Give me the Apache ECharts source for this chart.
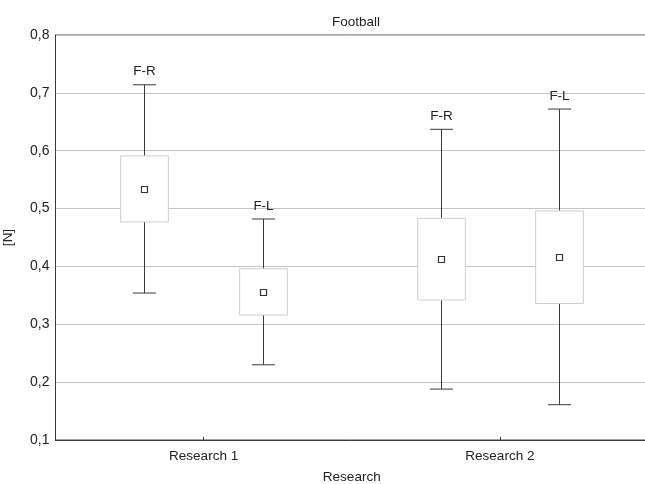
<!DOCTYPE html>
<html>
<head>
<meta charset="utf-8">
<script src="https://cdn.jsdelivr.net/npm/echarts@6/dist/echarts.min.js"></script>
<style>
html,body{margin:0;padding:0;background:#fff;}
#chart{width:645px;height:484px;}
</style>
</head>
<body>
<div id="chart"></div>
<script>
var categories = ['Research 1', 'Research 2'];
var groupNames = ['F-R', 'F-L'];
var yTicks = [0.1, 0.2, 0.3, 0.4, 0.5, 0.6, 0.7, 0.8];

var frMin  = [0.354, 0.188];
var frQ1   = [0.477, 0.342];
var frMean = [0.534, 0.412];
var frQ3   = [0.591, 0.483];
var frMax  = [0.714, 0.637];

var flMin  = [0.230, 0.161];
var flQ1   = [0.316, 0.336];
var flMean = [0.355, 0.417];
var flQ3   = [0.396, 0.496];
var flMax  = [0.482, 0.672];

function rows(mn, q1, mean, q3, mx) {
  return categories.map(function (c, i) { return [i, mn[i], q1[i], mean[i], q3[i], mx[i]]; });
}

var FONT = '"Liberation Sans", Arial, sans-serif';
var FS = 13.5;

function makeRender(offsetFrac, label) {
  return function (params, api) {
    var idx = api.value(0);
    var band = api.size([1, 0])[0];
    var cx = api.coord([idx, 0])[0] + offsetFrac * band;
    var yMin = api.coord([idx, api.value(1)])[1];
    var yQ1 = api.coord([idx, api.value(2)])[1];
    var yMean = api.coord([idx, api.value(3)])[1];
    var yQ3 = api.coord([idx, api.value(4)])[1];
    var yMax = api.coord([idx, api.value(5)])[1];
    var bw = band * 0.161;
    var cap = 23;
    var ln = { stroke: '#3a3a3a', lineWidth: 1 };
    var x = Math.round(cx) + 0.5;
    return {
      type: 'group',
      children: [
        { type: 'line', shape: { x1: x, y1: yMax, x2: x, y2: yQ3 }, style: ln },
        { type: 'line', shape: { x1: x, y1: yQ1, x2: x, y2: yMin }, style: ln },
        { type: 'line', shape: { x1: x - cap / 2, y1: yMax, x2: x + cap / 2, y2: yMax }, style: ln },
        { type: 'line', shape: { x1: x - cap / 2, y1: yMin, x2: x + cap / 2, y2: yMin }, style: ln },
        { type: 'rect', shape: { x: x - bw / 2, y: yQ3, width: bw, height: yQ1 - yQ3 },
          style: { fill: '#ffffff', stroke: '#cfcfcf', lineWidth: 1 } },
        { type: 'rect', shape: { x: x - 3, y: Math.round(yMean) - 2.5, width: 6, height: 6 },
          style: { fill: '#ffffff', stroke: '#333333', lineWidth: 1.2 } },
        { type: 'text', style: { text: label, x: x, y: yMax - 13, align: 'center', verticalAlign: 'middle',
          font: FS + 'px ' + FONT, fill: '#222' } }
      ]
    };
  };
}

var chart = echarts.init(document.getElementById('chart'), null, { renderer: 'canvas' });
chart.setOption({
  animation: false,
  backgroundColor: '#ffffff',
  title: {
    text: 'Football', left: 351, top: 10, textAlign: 'center',
    textStyle: { fontSize: FS, fontWeight: 'normal', color: '#222', fontFamily: FONT }
  },
  grid: { left: 55.5, right: -3, top: 35, bottom: 44, outerBoundsMode: 'none', containLabel: false,
    show: true, borderColor: '#4a4a4a', borderWidth: 1, backgroundColor: 'transparent' },
  xAxis: {
    type: 'category', data: categories,
    name: 'Research', nameLocation: 'middle', nameGap: 30,
    nameTextStyle: { fontSize: FS, color: '#222', fontFamily: FONT },
    axisLine: { lineStyle: { color: '#3a3a3a', width: 1 } },
    axisTick: { show: true, inside: true, alignWithLabel: true, length: 3, lineStyle: { color: '#3a3a3a' } },
    axisLabel: { fontSize: FS, color: '#222', margin: 9, fontFamily: FONT },
    splitLine: { show: false }
  },
  yAxis: {
    type: 'value', min: yTicks[0], max: yTicks[yTicks.length - 1], interval: 0.1,
    name: '[N]', nameLocation: 'middle', nameGap: 40, nameRotate: 90,
    nameTextStyle: { fontSize: FS, color: '#222', fontFamily: FONT },
    axisLine: { show: true, lineStyle: { color: '#3a3a3a', width: 1 } },
    axisTick: { show: false },
    axisLabel: { fontSize: 14, color: '#222', margin: 6, fontFamily: FONT,
      formatter: function (v) { return v.toFixed(1).replace('.', ','); } },
    splitLine: { show: true, lineStyle: { color: '#c4c4c4', width: 1 } }
  },
  series: [
    { type: 'custom', name: groupNames[0], renderItem: makeRender(-0.2, groupNames[0]),
      data: rows(frMin, frQ1, frMean, frQ3, frMax), encode: { x: 0, y: [1, 2, 3, 4, 5] } },
    { type: 'custom', name: groupNames[1], renderItem: makeRender(0.2, groupNames[1]),
      data: rows(flMin, flQ1, flMean, flQ3, flMax), encode: { x: 0, y: [1, 2, 3, 4, 5] } }
  ]
});
</script>
</body>
</html>
